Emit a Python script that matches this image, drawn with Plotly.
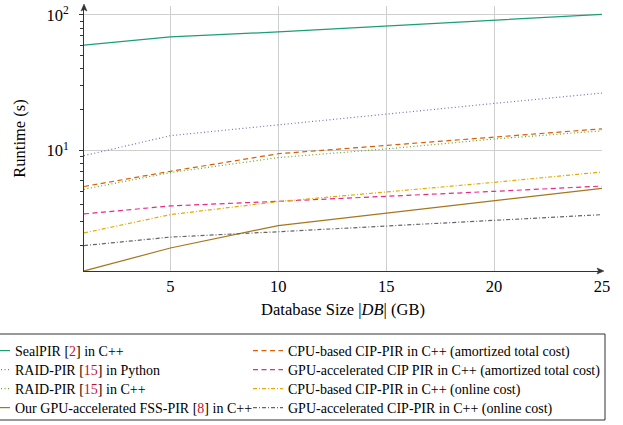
import plotly.graph_objects as go

sizes_gb = [1, 5, 10, 15, 20, 25]

sealpir_cpp = [60, 69, 75, 83, 92, 101]
raidpir_python = [9.2, 12.9, 15.5, 18.7, 22.3, 26.6]
raidpir_cpp = [5.2, 6.9, 8.9, 10.3, 12.2, 14.0]
our_gpu_fss = [1.3, 1.92, 2.81, 3.48, 4.29, 5.28]
cpu_cip_amortized = [5.45, 7.05, 9.5, 10.9, 12.6, 14.5]
gpu_cip_amortized = [3.42, 3.92, 4.24, 4.59, 5.02, 5.49]
cpu_cip_online = [2.48, 3.38, 4.22, 4.94, 5.85, 6.97]
gpu_cip_online = [2.0, 2.31, 2.53, 2.78, 3.08, 3.38]

y_tick_vals = [10, 100]
y_tick_text = ["10<sup>1</sup>", "10<sup>2</sup>"]
y_minor_vals = [2, 3, 4, 5, 6, 7, 8, 9, 20, 30, 40, 50, 60, 70, 80, 90]
x_tick_vals = [5, 10, 15, 20, 25]

RED = "#c8102e"
def ref(n):
    return f'[<span style="color:{RED}">{n}</span>]'

# (label, values, colour, dash, legend column, legend row)
series = [
    (f"SealPIR {ref(2)} in C++", sealpir_cpp, "#1b9e77", "solid", 0, 0),
    (f"RAID-PIR {ref(15)} in Python", raidpir_python, "#7570b3", "1px,2.5px", 0, 1),
    (f"RAID-PIR {ref(15)} in C++", raidpir_cpp, "#66a61e", "1px,2.5px", 0, 2),
    (f"Our GPU-accelerated FSS-PIR {ref(8)} in C++", our_gpu_fss, "#a6761d", "solid", 0, 3),
    ("CPU-based CIP-PIR in C++ (amortized total cost)", cpu_cip_amortized, "#d95f02", "5px,3.5px", 1, 0),
    ("GPU-accelerated CIP PIR in C++ (amortized total cost)", gpu_cip_amortized, "#e7298a", "5px,3.5px", 1, 1),
    ("CPU-based CIP-PIR in C++ (online cost)", cpu_cip_online, "#e6ab02", "4px,2px,1px,2px", 1, 2),
    ("GPU-accelerated CIP-PIR in C++ (online cost)", gpu_cip_online, "#666666", "4px,2px,1px,2px", 1, 3),
]

FONT = "Liberation Serif"
AX = "#333333"

# plot area: x 84..602 px, y 6..271 px
W, H = 623, 425
L, R, T, B = 84, 21, 6, 154
pw, ph = W - L - R, H - T - B

def px_x(p):
    return (p - L) / pw

def px_y(p):
    return (H - B - p) / ph

col_left_px = [-25, 248]
row_center_px = [351, 370, 389, 408]

fig = go.Figure()
legends = {}
for i, (name, vals, color, dash, col, row) in enumerate(series):
    lid = "legend" if i == 0 else f"legend{i + 1}"
    fig.add_trace(go.Scatter(
        x=sizes_gb, y=vals, mode="lines", name=name,
        line=dict(color=color, width=1.2, dash=dash),
        legend=lid,
    ))
    legends[lid] = dict(
        font=dict(family=FONT, size=14, color="black"),
        bgcolor="rgba(0,0,0,0)", borderwidth=0,
        orientation="v", xanchor="left", yanchor="top",
        x=px_x(col_left_px[col]), y=px_y(row_center_px[row] - 16),
    )

fig.update_layout(
    width=W, height=H,
    margin=dict(l=L, r=R, t=T, b=B, autoexpand=False),
    paper_bgcolor="white", plot_bgcolor="white",
    font=dict(family=FONT, size=16.5, color="black"),
    showlegend=True,
    xaxis=dict(
        range=[1, 25], tickvals=x_tick_vals, ticks="",
        showgrid=True, gridcolor="#cfcfcf", gridwidth=1,
        showline=True, linecolor=AX, linewidth=1,
        zeroline=False,
        title=dict(text="Database Size |<i>DB</i>| (GB)", standoff=8,
                   font=dict(family=FONT, size=16.5)),
        tickfont=dict(family=FONT, size=16.5),
    ),
    yaxis=dict(
        type="log", range=[0.1139, 2.066],
        tickvals=y_tick_vals, ticktext=y_tick_text,
        ticks="outside", ticklen=4, tickcolor=AX, ticklabelstandoff=7,
        minor=dict(tickvals=y_minor_vals, ticks="outside", ticklen=3, tickcolor=AX, showgrid=False),
        showgrid=True, gridcolor="#cfcfcf", gridwidth=1,
        showline=True, linecolor=AX, linewidth=1,
        zeroline=False,
        title=dict(text="Runtime (s)", standoff=16, font=dict(family=FONT, size=16.5)),
        tickfont=dict(family=FONT, size=16.5),
    ),
    shapes=[
        dict(type="rect", xref="paper", yref="paper",
             x0=px_x(-3), x1=px_x(605), y0=px_y(420), y1=px_y(334),
             line=dict(color="#333333", width=1), fillcolor="rgba(0,0,0,0)", layer="above"),
        # arrow heads at the axis ends
        dict(type="path", xref="paper", yref="paper",
             xsizemode="pixel", ysizemode="pixel", xanchor=0, yanchor=1,
             path="M0,2 L-3,-5 L0,-3.5 L3,-5 Z",
             fillcolor=AX, line=dict(color=AX, width=0.5), layer="above"),
        dict(type="path", xref="paper", yref="paper",
             xsizemode="pixel", ysizemode="pixel", xanchor=1, yanchor=0,
             path="M2,0 L-5,3 L-3.5,0 L-5,-3 Z",
             fillcolor=AX, line=dict(color=AX, width=0.5), layer="above"),
    ],
    **legends,
)

fig.write_html("out.html", config={"displayModeBar": False},
               post_script="document.body.style.margin='0';")
